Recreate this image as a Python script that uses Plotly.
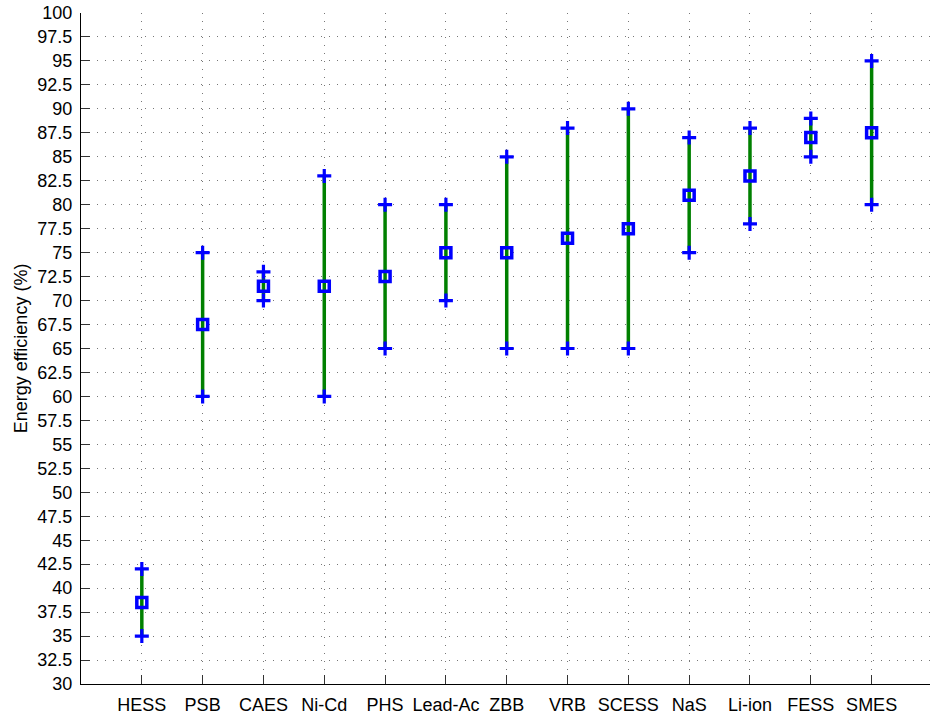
import plotly.graph_objects as go

categories = ["HESS", "PSB", "CAES", "Ni-Cd", "PHS", "Lead-Ac", "ZBB",
              "VRB", "SCESS", "NaS", "Li-ion", "FESS", "SMES"]
eff_min = [35, 60, 70, 60, 65, 70, 65, 65, 65, 75, 78, 85, 80]
eff_mean = [38.5, 67.5, 71.5, 71.5, 72.5, 75, 75, 76.5, 77.5, 81, 83, 87, 87.5]
eff_max = [42, 75, 73, 83, 80, 80, 85, 88, 90, 87, 88, 89, 95]

y_ticks = [30 + 2.5 * i for i in range(29)]
y_ticktext = [("%g" % v) for v in y_ticks]

line_x, line_y = [], []
for c, lo, hi in zip(categories, eff_min, eff_max):
    line_x += [c, c, None]
    line_y += [lo, hi, None]

fig = go.Figure()
fig.add_trace(go.Scatter(x=line_x, y=line_y, mode="lines",
                         line=dict(color="#008000", width=3.5),
                         hoverinfo="skip", showlegend=False))
fig.add_trace(go.Scatter(x=categories + categories, y=eff_min + eff_max,
                         mode="markers",
                         marker=dict(symbol="cross-thin", size=10,
                                     line=dict(color="#0000FF", width=3.2)),
                         showlegend=False))
fig.add_trace(go.Scatter(x=categories, y=eff_mean, mode="markers",
                         marker=dict(symbol="square-open", size=10,
                                     color="#0000FF",
                                     line=dict(color="#0000FF", width=3.5)),
                         showlegend=False))

font = dict(family="Liberation Sans, Arial, sans-serif", size=18, color="black")

fig.update_layout(
    width=930, height=715,
    margin=dict(l=81, r=0, t=13, b=31),
    plot_bgcolor="white", paper_bgcolor="white",
    font=font,
    showlegend=False,
)
fig.update_xaxes(
    type="category", categoryorder="array", categoryarray=categories,
    range=[-1, 12.96],
    showline=True, linecolor="black", linewidth=1.2, mirror=False,
    ticks="inside", ticklen=9, tickcolor="#333", tickwidth=1,
    showgrid=True, gridcolor="#777", gridwidth=1, griddash="1px,7px",
    zeroline=False, tickfont=font, ticklabelstandoff=4,
)
fig.update_yaxes(
    range=[30, 100], tickmode="array", tickvals=y_ticks, ticktext=y_ticktext,
    showline=True, linecolor="black", linewidth=1.2, mirror=False,
    ticks="inside", ticklen=9, tickcolor="#333", tickwidth=1,
    showgrid=True, gridcolor="#777", gridwidth=1, griddash="1px,7px",
    zeroline=False, tickfont=font, ticklabelstandoff=4,
    title=dict(text="Energy efficiency (%)", font=font, standoff=4),
)

fig.write_html("out.html")
